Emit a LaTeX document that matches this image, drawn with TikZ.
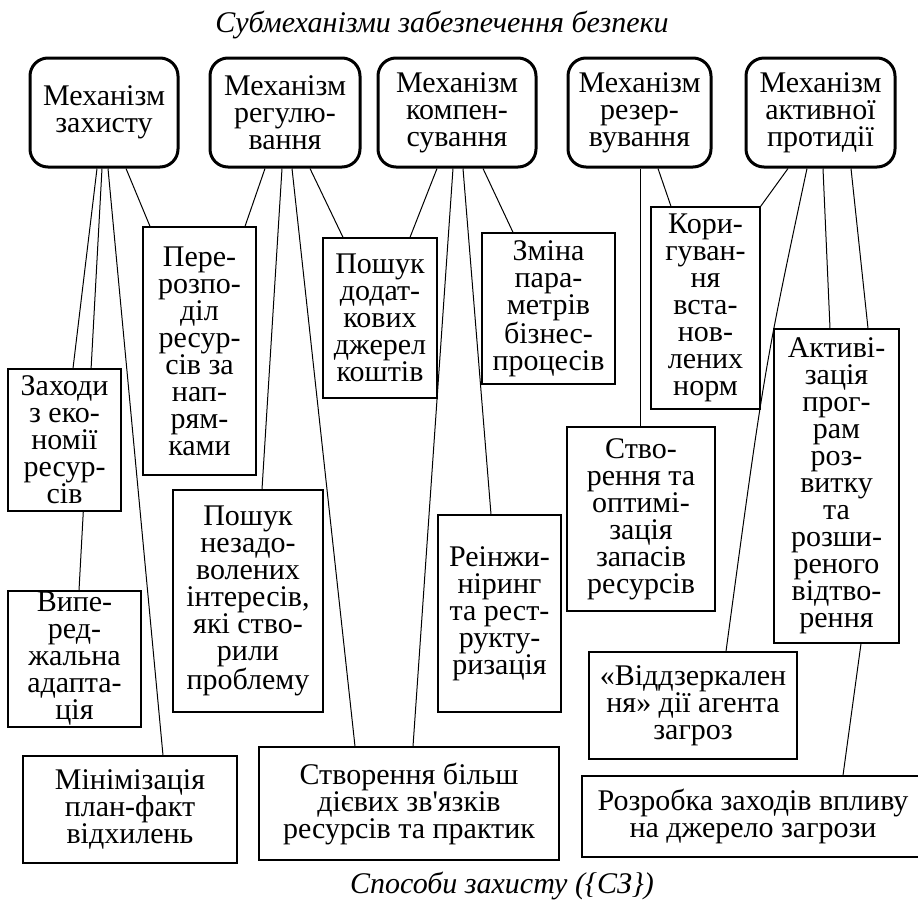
\documentclass[tikz,border=0pt]{standalone}
\usepackage{fontspec}
\setmainfont{Liberation Serif}
\newfontfamily\plainrm{Liberation Serif}
\usetikzlibrary{backgrounds}
\newcommand{\boxfont}{\fontsize{30}{27}\selectfont}
\begin{document}
\begin{tikzpicture}[x=1pt, y=-1pt,
  mech/.style={draw, line width=3pt, rounded corners=18pt, fill=white, align=center, inner sep=0pt, font=\boxfont},
  way/.style={draw, line width=1.3pt, fill=white, align=center, inner sep=0pt, font=\boxfont},
  link/.style={line width=1pt},
  captext/.style={font=\fontsize{30}{30}\selectfont\itshape}]
\useasboundingbox (0,0) rectangle (918,903);
% titles
\node[captext] (title) at (442,25) {Субмеханізми забезпечення безпеки};
\node[captext] (bottom) at (502,886) {Способи захисту (\{СЗ\})};
% mechanisms
\node[mech, minimum width=148pt, minimum height=109pt] (m1) at (104,112.5) {Механізм\\захисту};
\node[mech, minimum width=150pt, minimum height=109pt] (m2) at (285,112.5) {Механізм\\регулю-\\вання};
\node[mech, minimum width=158pt, minimum height=109pt] (m3) at (457,112.5) {Механізм\\компен-\\сування};
\node[mech, minimum width=143pt, minimum height=109pt] (m4) at (639.5,112.5) {Механізм\\резер-\\вування};
\node[mech, minimum width=149pt, minimum height=109pt] (m5) at (820.5,112.5) {Механізм\\активної\\протидії};
% ways
\node[way, minimum width=113pt, minimum height=248pt] (A) at (199.5,351) {Пере-\\розпо-\\діл\\ресур-\\сів за\\нап-\\рям-\\ками};
\node[way, minimum width=114pt, minimum height=160pt] (B) at (380,318) {Пошук\\додат-\\кових\\джерел\\коштів};
\node[way, minimum width=113pt, minimum height=142pt] (C) at (64.5,440) {Заходи\\з еко-\\номії\\ресур-\\сів};
\node[way, minimum width=133pt, minimum height=136pt] (D) at (74.5,659) {Випе-\\ред-\\жальна\\адапта-\\ція};
\node[way, minimum width=214pt, minimum height=107pt] (E) at (130,809.5) {Мінімізація\\план-факт\\відхилень};
\node[way, minimum width=150pt, minimum height=222pt] (F) at (248,601) {Пошук\\незадо-\\волених\\інтересів,\\які ство-\\рили\\проблему};
\node[way, minimum width=300pt, minimum height=113pt] (G) at (409,803.5) {Створення більш\\дієвих зв{\plainrm'}язків\\ресурсів та практик};
\node[way, minimum width=123pt, minimum height=197pt] (H) at (499.5,613.5) {Реінжи-\\ніринг\\та рест-\\рукту-\\ризація};
\node[way, minimum width=133pt, minimum height=151pt] (I) at (548.5,308.5) {Зміна\\пара-\\метрів\\бізнес-\\процесів};
\node[way, minimum width=109pt, minimum height=202pt] (J) at (705.5,308) {Кори-\\гуван-\\ня\\вста-\\нов-\\лених\\норм};
\node[way, minimum width=148pt, minimum height=184pt] (K) at (641,519) {Ство-\\рення та\\оптимі-\\зація\\запасів\\ресурсів};
\node[way, minimum width=125pt, minimum height=314pt] (L) at (836.5,486) {Активі-\\зація\\прог-\\рам\\роз-\\витку\\та\\розши-\\реного\\відтво-\\рення};
\node[way, minimum width=208pt, minimum height=107pt] (M) at (693,705.5) {«Віддзеркален\\ня» дії агента\\загроз};
\node[way, minimum width=342pt, minimum height=81pt] (N) at (753,816.5) {Розробка заходів впливу\\на джерело загрози};
% connectors
\begin{scope}[on background layer]
\draw[link] ([xshift=22pt]m1.south) -- ([xshift=-49.5pt]A.north);
\draw[link] ([xshift=-7pt]m1.south) -- ([xshift=8.5pt]C.north);
\draw[link] ([xshift=-2pt]m1.south) -- ([xshift=4.5pt]D.north);
\draw[link] ([xshift=4pt]m1.south) -- ([xshift=33pt]E.north);
\draw[link] ([xshift=-20pt]m2.south) -- ([xshift=45.5pt]A.north);
\draw[link] ([xshift=-3pt]m2.south) -- ([xshift=14pt]F.north);
\draw[link] ([xshift=7pt]m2.south) -- ([xshift=-54pt]G.north);
\draw[link] ([xshift=25pt]m2.south) -- ([xshift=-37pt]B.north);
\draw[link] ([xshift=-20pt]m3.south) -- ([xshift=30pt]B.north);
\draw[link] ([xshift=-4pt]m3.south) -- ([xshift=4pt]G.north);
\draw[link] ([xshift=6pt]m3.south) -- ([xshift=-8.5pt]H.north);
\draw[link] ([xshift=26pt]m3.south) -- ([xshift=-35.5pt]I.north);
\draw[link] ([xshift=0.5pt]m4.south) -- ([xshift=-1pt]K.north);
\draw[link] ([xshift=18.5pt]m4.south) -- ([xshift=-34.5pt]J.north);
\draw[link] ([xshift=-32.5pt]m5.south) -- (J.north east);
\draw[link] ([xshift=-13.5pt]m5.south) .. controls (764,370) .. ([xshift=33pt]M.north);
\draw[link] ([xshift=2.5pt]m5.south) -- ([xshift=-6.5pt]L.north);
\draw[link] ([xshift=30.5pt]m5.south) -- ([xshift=31.5pt]L.north);
\draw[link] ([xshift=24.5pt]L.south) -- ([xshift=90pt]N.north);
\end{scope}
\end{tikzpicture}
\end{document}
